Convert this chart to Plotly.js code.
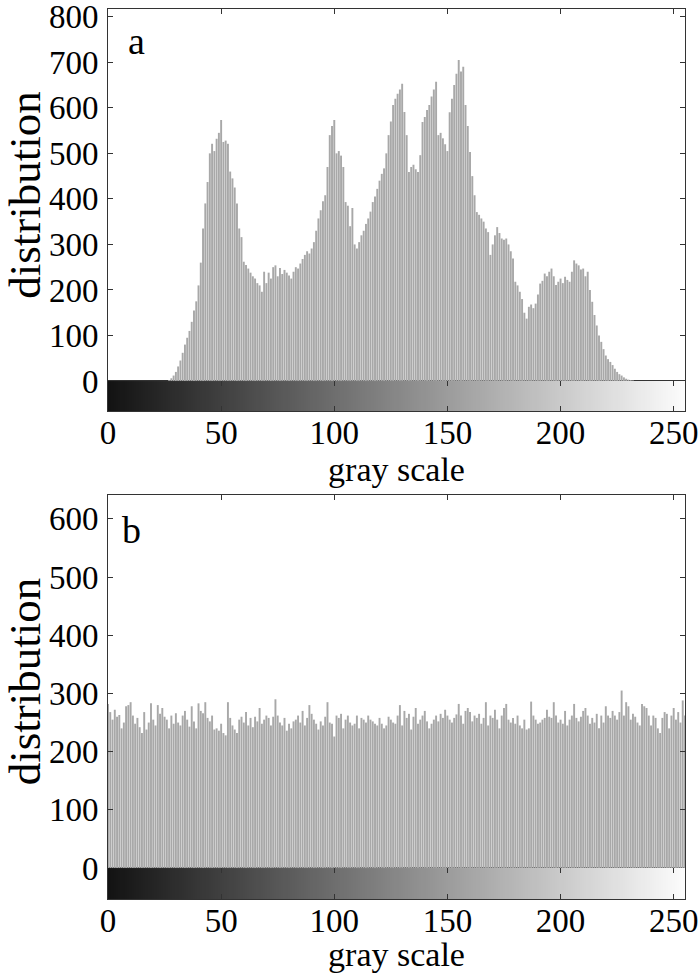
<!DOCTYPE html>
<html>
<head>
<meta charset="utf-8">
<script src="https://cdn.plot.ly/plotly-3.0.1.min.js"></script>
<style>html,body{margin:0;padding:0;background:#fff;}#chart{width:700px;height:973px;}</style>
</head>
<body>
<div id="chart"></div>
<script>
// gray levels 0..255
var grayLevels = [];
for (var g = 0; g < 256; g++) grayLevels.push(g);

// panel a: original histogram (counts per gray level)
var countsA = [
  0,0,0,0,0,0,0,0,0,0,0,0,0,0,0,0,
  0,0,0,0,0,0,0,0,0,0,0,2,6,12,20,32,
  45,62,80,95,110,130,155,175,210,260,335,390,437,500,521,505,
  532,545,573,525,528,521,460,445,425,390,335,316,262,255,247,238,
  230,225,215,210,196,240,215,238,225,250,254,230,248,235,244,238,
  232,225,240,250,247,258,268,277,285,280,291,305,330,357,375,395,
  408,470,540,560,573,500,505,495,470,393,385,340,380,300,291,305,
  320,330,345,357,372,393,405,422,440,455,467,500,540,570,606,620,
  631,640,653,591,540,459,470,475,465,459,496,569,580,595,606,625,
  640,657,540,545,533,520,505,590,620,650,675,705,680,690,606,560,
  503,450,408,371,365,357,350,335,327,277,300,320,338,325,313,310,
  313,300,285,269,218,210,196,180,150,137,163,168,160,170,190,214,
  220,236,230,240,247,230,211,218,225,215,229,222,218,240,265,258,
  254,245,247,230,240,200,174,145,122,100,86,70,56,48,42,35,
  27,20,15,12,8,5,3,2,1,0,0,0,0,0,0,0,
  0,0,0,0,0,0,0,0,0,0,0,0,0,0,0,0
];

// panel b: equalized histogram
var countsB = [
  282,268,255,272,260,263,240,250,278,280,285,262,248,258,242,232,
  268,238,250,283,255,245,280,265,275,260,255,240,262,248,266,250,
  245,262,270,255,243,278,252,240,283,270,266,285,258,252,262,238,
  240,236,248,232,228,285,258,245,238,232,255,260,250,268,245,258,
  242,260,252,275,248,255,262,258,245,260,290,262,250,245,258,236,
  248,240,252,255,262,250,270,245,258,280,265,255,248,238,252,245,
  260,285,250,248,226,262,258,265,240,255,262,250,245,248,262,240,
  258,255,250,262,255,252,248,245,258,248,240,245,260,255,250,248,
  262,280,245,270,258,265,238,260,275,248,255,262,270,252,240,248,
  255,262,252,265,258,272,262,255,250,258,264,282,262,248,270,275,
  268,252,262,258,265,248,258,285,245,262,258,272,255,240,262,275,
  282,255,250,258,248,262,245,240,255,238,240,286,262,255,248,250,
  255,258,272,260,258,285,262,250,255,248,270,245,255,262,282,258,
  252,260,270,275,262,248,258,250,265,240,262,250,278,262,258,270,
  262,255,268,305,262,285,278,255,265,260,250,245,282,278,275,262,
  245,262,258,240,232,258,268,265,240,262,275,255,268,250,288,262
];

var xTicks = [0, 50, 100, 150, 200, 250];
var yTicksA = [0, 100, 200, 300, 400, 500, 600, 700, 800];
var yTicksB = [0, 100, 200, 300, 400, 500, 600];
var panelLabels = ['a', 'b'];
var xTitle = 'gray scale';
var yTitle = 'distribution';

var FONT = 'Liberation Serif, Times New Roman, serif';
var barColor = '#a8a8a8';
var gradScale = [[0, 'rgb(18,18,18)'], [1, 'rgb(252,252,252)']];

var traces = [
  {type:'bar', x: grayLevels, y: countsA, xaxis:'x2', yaxis:'y', marker:{color:barColor, line:{width:0}}, hoverinfo:'skip'},
  {type:'heatmap', x: grayLevels, y:[0], z:[grayLevels], xaxis:'x', yaxis:'y2', colorscale: gradScale, showscale:false, zmin:0, zmax:255, hoverinfo:'skip'},
  {type:'bar', x: grayLevels, y: countsB, xaxis:'x4', yaxis:'y3', marker:{color:barColor, line:{width:0}}, hoverinfo:'skip'},
  {type:'heatmap', x: grayLevels, y:[0], z:[grayLevels], xaxis:'x3', yaxis:'y4', colorscale: gradScale, showscale:false, zmin:0, zmax:255, hoverinfo:'skip'}
];

var tickFont = {family: FONT, size: 33, color:'#000'};
var titleFont = {family: FONT, size: 34, color:'#000'};

function xMain(anchor) {
  return {
    anchor: anchor, domain:[0,1], range:[0,255],
    tickmode:'array', tickvals: xTicks, ticks:'inside', ticklen:5, tickwidth:1, tickcolor:'#333',
    showline:true, linecolor:'#333', linewidth:1, mirror:'ticks',
    showgrid:false, zeroline:false, tickfont: tickFont, ticklabeloverflow:'allow',
    ticklabelstandoff: -8,
    title:{text: xTitle, font: titleFont, standoff: 0},
    layer:'above traces'
  };
}
function xTop(anchor, matchesAxis) {
  return {
    anchor: anchor, matches: matchesAxis, side:'top', range:[0,255],
    tickmode:'array', tickvals: xTicks, ticks:'inside', ticklen:5, tickwidth:1, tickcolor:'#333',
    showline:true, linecolor:'#333', linewidth:1, mirror:false,
    showgrid:false, zeroline:false, showticklabels:false,
    layer:'above traces'
  };
}
function yHist(anchor, dom, maxV, ticks) {
  return {
    anchor: anchor, domain: dom, range:[0, maxV],
    tickmode:'array', tickvals: ticks, ticks:'inside', ticklen:5, tickwidth:1, tickcolor:'#333',
    showline:true, linecolor:'#333', linewidth:1, mirror:'ticks',
    showgrid:false, zeroline:false, tickfont: tickFont, ticklabelstandoff: 2, ticklabeloverflow:'allow',
    title:{text: yTitle, font:{family: FONT, size: 45, color:'#000'}, standoff: 4},
    layer:'above traces'
  };
}
function yBar(anchor, dom) {
  return {
    anchor: anchor, domain: dom, range:[-0.5, 0.5],
    showticklabels:false, ticks:'', showline:true, linecolor:'#333', linewidth:1, mirror:true,
    showgrid:false, zeroline:false, layer:'above traces'
  };
}

var layout = {
  width:700, height:973,
  margin:{l:108, r:15, t:9, b:74},
  paper_bgcolor:'#fff', plot_bgcolor:'#fff',
  showlegend:false, bargap:0.15,
  font:{family: FONT, color:'#000'},
  xaxis: xMain('y2'),
  xaxis2: xTop('y', 'x'),
  xaxis3: xMain('y4'),
  xaxis4: xTop('y3', 'x3'),
  yaxis: yHist('x2', [0.582, 1.0], 817, yTicksA),
  yaxis2: yBar('x', [0.5483, 0.582]),
  yaxis3: yHist('x4', [0.0348, 0.4539], 641, yTicksB),
  yaxis4: yBar('x3', [0, 0.0348]),
  annotations:[
    {text: panelLabels[0], xref:'x2 domain', yref:'y domain', x:0.05, y:0.915, xanchor:'center', yanchor:'middle', showarrow:false, font:{family: FONT, size:38, color:'#000'}},
    {text: panelLabels[1], xref:'x4 domain', yref:'y3 domain', x:0.04, y:0.905, xanchor:'center', yanchor:'middle', showarrow:false, font:{family: FONT, size:38, color:'#000'}}
  ]
};

Plotly.newPlot('chart', traces, layout, {staticPlot:true, displayModeBar:false});
</script>
</body>
</html>
